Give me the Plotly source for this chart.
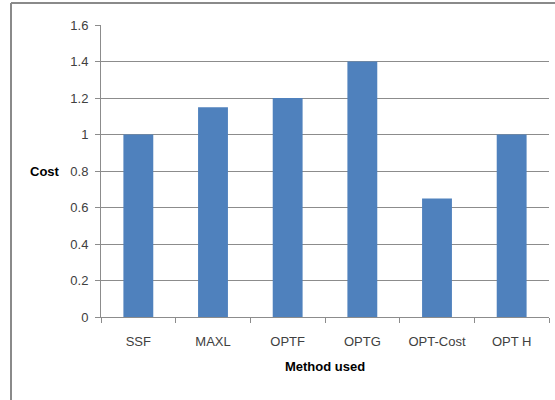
import plotly.graph_objects as go

# Cost per method
methods = ["SSF", "MAXL", "OPTF", "OPTG", "OPT-Cost", "OPT H"]
costs = [1.0, 1.15, 1.2, 1.4, 0.65, 1.0]
y_ticks = [0, 0.2, 0.4, 0.6, 0.8, 1, 1.2, 1.4, 1.6]
y_tick_text = ["0", "0.2", "0.4", "0.6", "0.8", "1", "1.2", "1.4", "1.6"]

FONT = "Liberation Sans, Arial, sans-serif"
BAR = "#4F81BD"
GRID = "#8C8C8C"

fig = go.Figure(
    go.Bar(
        x=methods,
        y=costs,
        marker=dict(color=BAR, line=dict(width=0)),
        width=0.4,
    )
)

L, R, T, B = 101, 6, 25, 83
W, H = 555, 400
pw, ph = W - L - R, H - T - B

fig.update_layout(
    width=W,
    height=H,
    margin=dict(l=L, r=R, t=T, b=B),
    paper_bgcolor="white",
    plot_bgcolor="white",
    showlegend=False,
    font=dict(family=FONT, size=13, color="#404040"),
    xaxis=dict(
        showline=True,
        linecolor=GRID,
        linewidth=1,
        ticks="outside",
        tickcolor=GRID,
        ticklen=5,
        tickson="boundaries",
        showgrid=False,
        tickfont=dict(size=13, color="#404040"),
        ticklabelstandoff=12,
        title=dict(text="<b>Method used</b>", font=dict(size=13, color="#000000"), standoff=14),
    ),
    yaxis=dict(
        range=[0, 1.6],
        tickvals=y_ticks,
        ticktext=y_tick_text,
        showline=True,
        linecolor=GRID,
        linewidth=1,
        ticks="outside",
        tickcolor=GRID,
        ticklen=5,
        showgrid=True,
        gridcolor=GRID,
        gridwidth=1,
        zeroline=False,
        tickfont=dict(size=13, color="#404040"),
        ticklabelstandoff=4,
    ),
    annotations=[
        dict(
            text="<b>Cost</b>",
            xref="paper",
            yref="paper",
            x=(62 - L) / pw,
            y=0.5,
            xanchor="right",
            yanchor="middle",
            showarrow=False,
            font=dict(size=13, color="#000000", family=FONT),
        )
    ],
    shapes=[
        # chart frame: top and left edges
        dict(type="line", xref="paper", yref="paper",
             x0=(11 - L) / pw, x1=(W + 5 - L) / pw,
             y0=(H - B - 3) / ph, y1=(H - B - 3) / ph,
             line=dict(color="#8A8A8A", width=2)),
        dict(type="line", xref="paper", yref="paper",
             x0=(11 - L) / pw, x1=(11 - L) / pw,
             y0=(H - B - 3) / ph, y1=(H - B - H - 5) / ph,
             line=dict(color="#8A8A8A", width=2)),
    ],
)

fig.write_html("out.html")
